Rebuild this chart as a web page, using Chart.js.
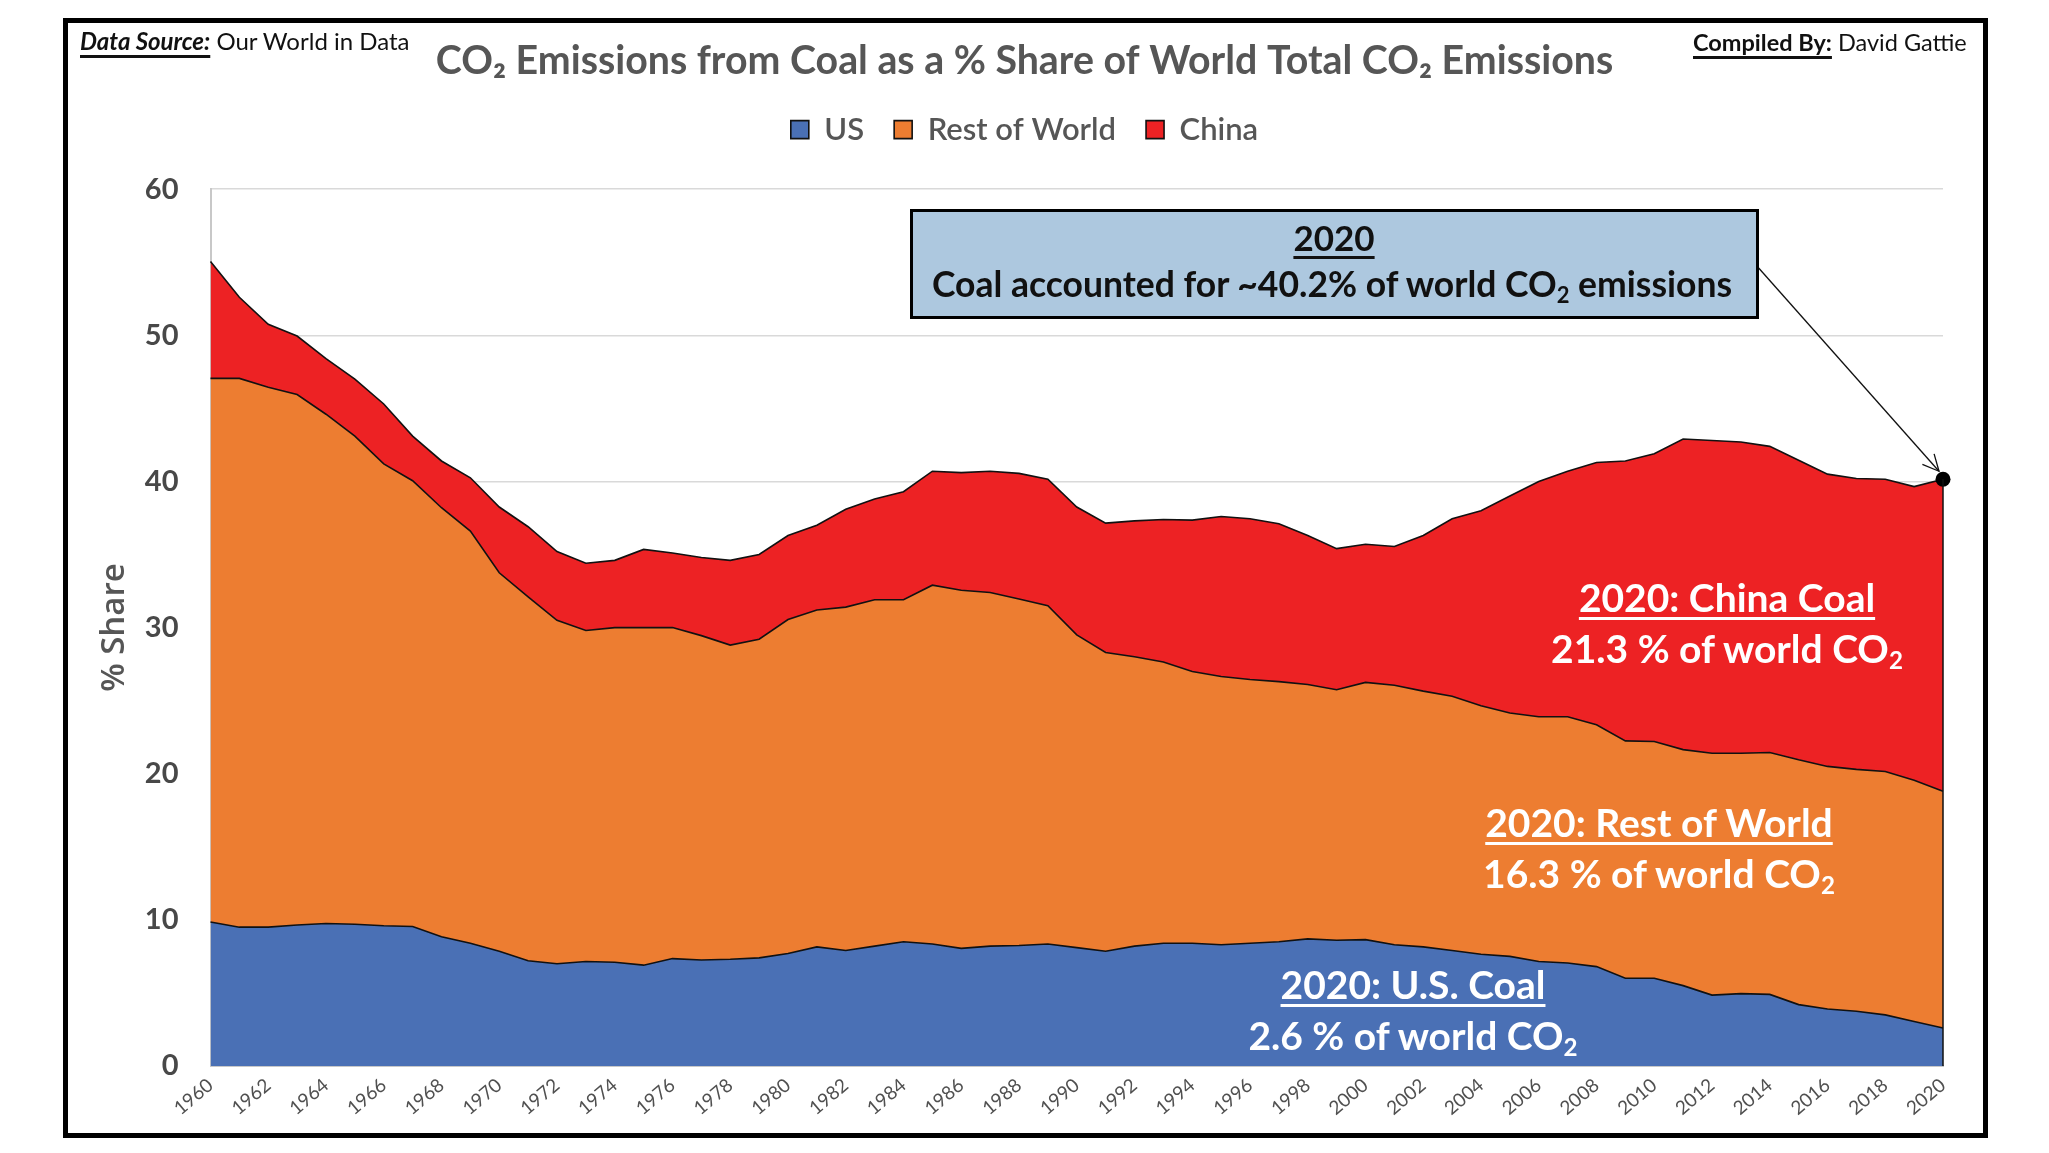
<!DOCTYPE html>
<html><head><meta charset="utf-8">
<style>
html,body{margin:0;padding:0;background:#fff;width:2049px;height:1153px;overflow:hidden}
#wrap{position:relative;width:2049px;height:1153px}
canvas{position:absolute;left:0;top:0}
#frame{position:absolute;left:63px;top:18px;width:1915px;height:1110px;border:5px solid #000;pointer-events:none}
.t{position:absolute;white-space:nowrap;font-family:Lato,sans-serif;line-height:1}
.c{transform:translateX(-50%)}
.w{color:#fff;font-weight:700;font-size:39px}
.u{text-decoration:underline;text-decoration-thickness:3px;text-underline-offset:5px}
sub{font-size:.62em;line-height:0;vertical-align:-.25em}
#box{position:absolute;left:910px;top:209px;width:843px;height:104px;background:#adc8df;border:3px solid #000}
</style></head><body>
<div id="wrap">
<canvas id="c" width="2049" height="1153"></canvas>
<div id="frame"></div>
<div class="t" style="left:80px;top:29px;font-size:24px;color:#111"><b style="font-style:italic" class="u">Data Source:</b> Our World in Data</div>
<div class="t" style="left:1693px;top:31px;font-size:23.5px;color:#111"><b class="u">Compiled By:</b> David Gattie</div>
<div id="box"></div>
<div class="t c u" style="left:1334px;top:220px;font-size:35px;font-weight:700;color:#111">2020</div>
<div class="t c" style="left:1332px;top:266px;font-size:35.5px;font-weight:700;color:#111">Coal accounted for ~40.2% of world CO<sub>2</sub> emissions</div>
<div class="t c w u" style="left:1727px;top:578px">2020: China Coal</div>
<div class="t c w" style="left:1727px;top:629px">21.3 % of world CO<sub>2</sub></div>
<div class="t c w u" style="left:1659px;top:803px">2020: Rest of World</div>
<div class="t c w" style="left:1659px;top:854px">16.3 % of world CO<sub>2</sub></div>
<div class="t c w u" style="left:1413px;top:965px">2020: U.S. Coal</div>
<div class="t c w" style="left:1413px;top:1016px">2.6 % of world CO<sub>2</sub></div>
</div>
<script src="https://cdn.jsdelivr.net/npm/chart.js@4"></script>
<script>
const years = ["1960","1961","1962","1963","1964","1965","1966","1967","1968","1969","1970","1971","1972","1973","1974","1975","1976","1977","1978","1979","1980","1981","1982","1983","1984","1985","1986","1987","1988","1989","1990","1991","1992","1993","1994","1995","1996","1997","1998","1999","2000","2001","2002","2003","2004","2005","2006","2007","2008","2009","2010","2011","2012","2013","2014","2015","2016","2017","2018","2019","2020"];
const usShare = [9.85,9.5,9.5,9.65,9.75,9.7,9.6,9.55,8.85,8.4,7.85,7.2,7.0,7.15,7.1,6.9,7.35,7.25,7.3,7.4,7.7,8.15,7.9,8.2,8.5,8.35,8.05,8.2,8.25,8.35,8.1,7.85,8.2,8.4,8.4,8.3,8.4,8.5,8.7,8.6,8.65,8.3,8.15,7.9,7.65,7.5,7.15,7.05,6.8,6.0,6.0,5.5,4.85,4.95,4.9,4.2,3.9,3.75,3.5,3.05,2.6];
const restShare = [37.2,37.55,36.95,36.3,34.85,33.4,31.6,30.5,29.35,28.2,25.9,24.9,23.5,22.65,22.9,23.1,22.65,22.2,21.5,21.8,22.85,23.05,23.5,23.7,23.4,24.55,24.5,24.2,23.7,23.15,21.4,20.45,19.8,19.25,18.6,18.35,18.05,17.8,17.4,17.15,17.6,17.75,17.5,17.4,17.0,16.65,16.75,16.85,16.55,16.25,16.2,16.15,16.55,16.45,16.55,16.75,16.6,16.55,16.65,16.5,16.2];
const chinaShare = [8.0,5.55,4.3,4.0,3.8,3.9,4.1,3.05,3.2,3.65,4.5,4.8,4.7,4.6,4.6,5.35,5.1,5.35,5.8,5.8,5.75,5.8,6.7,6.9,7.4,7.8,8.05,8.3,8.6,8.65,8.75,8.85,9.3,9.75,10.35,10.95,11.0,10.8,10.2,9.65,9.45,9.5,10.65,12.15,13.35,14.85,16.1,16.8,17.95,19.15,19.7,21.25,21.4,21.3,20.95,20.5,20.0,19.9,20.0,20.1,21.35];
const titleText = "CO₂ Emissions from Coal as a % Share of World Total CO₂ Emissions";
const yTitle = "% Share";
const seriesNames = ["US","Rest of World","China"];
const seriesColors = ["#4a70b5","#ed7d31","#ed2224"];
const last = years.length-1;

const extras = {
  id:'extras',
  beforeLayout(chart){
    if(chart.legend && !chart.legend._patched){
      const f = chart.legend.fit;
      chart.legend.fit = function(){ f.call(this); this.height += 34; };
      chart.legend._patched = true;
    }
  },
  afterDatasetsDraw(chart){
    const {ctx,scales:{x,y}} = chart;
    const px = x.getPixelForValue(last);
    const total = usShare[last]+restShare[last]+chinaShare[last];
    const py = y.getPixelForValue(total);
    ctx.save();
    ctx.strokeStyle='#111';ctx.lineWidth=1.5;
    ctx.beginPath();ctx.moveTo(px,py);ctx.lineTo(px,y.getPixelForValue(0));ctx.stroke();
    const tx=px-4, ty=py-8, sx=1756, sy=265;
    ctx.lineWidth=1.3;
    ctx.beginPath();ctx.moveTo(sx,sy);ctx.lineTo(tx,ty);ctx.stroke();
    const a=Math.atan2(ty-sy,tx-sx), L=18;
    ctx.beginPath();
    ctx.moveTo(tx-L*Math.cos(a-0.45),ty-L*Math.sin(a-0.45));
    ctx.lineTo(tx,ty);
    ctx.lineTo(tx-L*Math.cos(a+0.45),ty-L*Math.sin(a+0.45));
    ctx.stroke();
    ctx.restore();
  }
};
Chart.defaults.font.family = 'Lato, sans-serif';
new Chart(document.getElementById('c'),{
  type:'line',
  data:{labels:years,datasets:[
    {label:seriesNames[0],data:usShare,backgroundColor:seriesColors[0],borderColor:'#111',borderWidth:1.6,fill:'origin',pointRadius:0,tension:0},
    {label:seriesNames[1],data:restShare,backgroundColor:seriesColors[1],borderColor:'#111',borderWidth:1.6,fill:'-1',pointRadius:0,tension:0},
    {label:seriesNames[2],data:chinaShare,backgroundColor:seriesColors[2],borderColor:'#111',borderWidth:1.6,fill:'-1',tension:0,clip:false,
      pointRadius:c=>c.dataIndex===last?7.5:0,pointBackgroundColor:'#000',pointBorderColor:'#000',pointBorderWidth:0}
  ]},
  options:{
    responsive:false,animation:false,devicePixelRatio:1,
    layout:{padding:{left:106,right:106,top:0,bottom:0}},
    plugins:{
      tooltip:{enabled:false},
      title:{display:true,text:titleText,color:'#565656',font:{size:39.3,weight:'700',lineHeight:1.2},padding:{top:38,bottom:-1}},
      legend:{display:true,position:'top',labels:{color:'#565656',font:{size:31,weight:'600'},boxWidth:18,boxHeight:18,padding:30}}
    },
    scales:{
      x:{stacked:true,offset:false,
        grid:{display:false,drawTicks:false},
        border:{display:true,color:'#c8c8c8',width:2},
        afterFit(s){s.height=87;},
        ticks:{autoSkip:false,minRotation:40,maxRotation:40,padding:8,color:'#505050',font:{size:19},
          callback(v,i){return i%2===0?years[i]:'';}}
      },
      y:{stacked:true,min:0,max:60,
        grid:{color:'#d9d9d9',lineWidth:1.5,drawTicks:false},
        border:{display:true,color:'#c8c8c8',width:2},
        afterFit(s){s.width=104.5;},
        title:{display:true,text:yTitle,color:'#565656',font:{family:'"Open Sans",sans-serif',size:33,weight:'600'},padding:{top:-11,bottom:0}},
        ticks:{stepSize:10,padding:32,color:'#484848',font:{size:29,weight:'700'}}
      }
    }
  },
  plugins:[extras]
});
</script>
</body></html>
